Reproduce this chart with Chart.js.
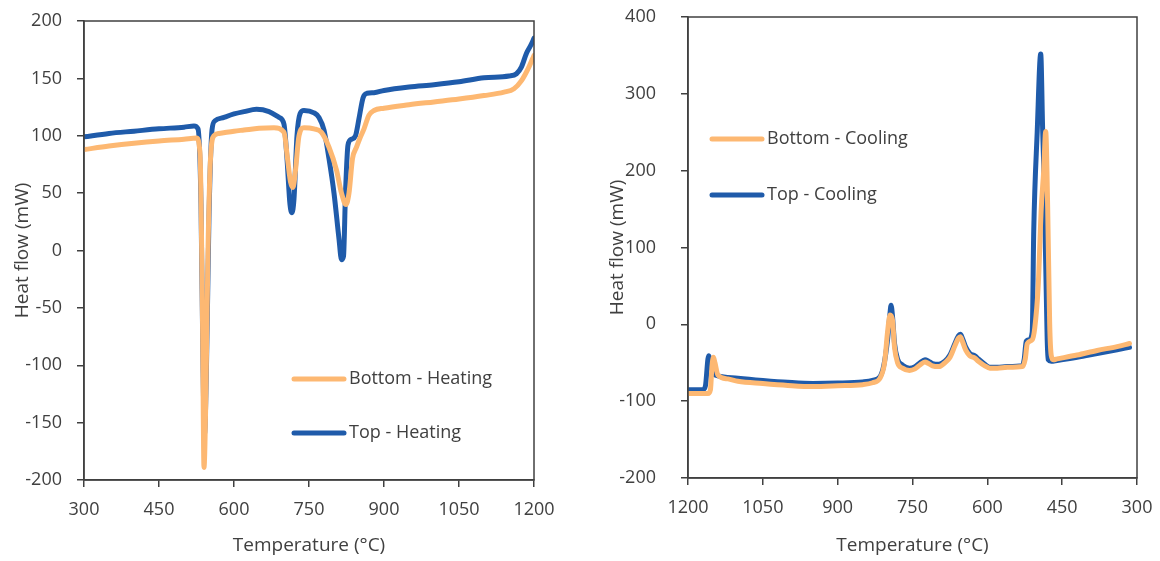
<!DOCTYPE html>
<html>
<head>
<meta charset="utf-8">
<script src="https://cdn.jsdelivr.net/npm/chart.js@4.4.1/dist/chart.umd.min.js"></script>
<style>
  html, body { margin:0; padding:0; background:#fff; }
  .wrap { position:absolute; top:0; width:580px; height:561px; }
  #leftWrap { left:0; }
  #rightWrap { left:580px; }
</style>
</head>
<body>
<div class="wrap" id="leftWrap"><canvas id="heatChart"></canvas></div>
<div class="wrap" id="rightWrap"><canvas id="coolChart"></canvas></div>
<script>
// heating run, bottom sample
const heatBottomT = [300,350,400,450,500,525,532,537,540,544,548,553,560,570,600,620,650,680,700,707,713,718,723,730,740,760,775,790,805,815,824,830,837,845,852,860,870,880,900,950,1000,1050,1100,1140,1160,1175,1190,1200];
const heatBottomQ = [88,91,93.5,95.5,97,98,85,-60,-189,-120,0,80,100,102,104,105,106.5,107,103,80,60,55,70,100,107,106,103,90,70,50,40,50,80,90,98,106,118,122,124,127,129.5,132,135,138,141,148,160,170];
// heating run, top sample
const heatTopT = [300,350,400,450,500,520,528,534,538,541,545,550,556,562,580,600,620,645,670,690,700,706,712,716,720,726,732,740,760,770,780,790,800,810,815,819,823,828,835,843,850,858,866,880,900,950,1000,1050,1100,1150,1165,1175,1185,1195,1200];
const heatTopQ = [99,102,104,106,107.5,108.5,106,40,-100,-160,-100,30,105,113,116,119,121,123,121,116,110,80,40,33,45,100,119,122,120,116,105,80,50,10,-8,-5,50,92,97,100,115,133,137,137.5,139.5,142.5,144.5,147,150.5,152,154,160,172,180,185];
// cooling run, bottom sample
const coolBottomT = [1200,1160,1155,1152,1149,1146,1140,1120,1100,1050,1000,950,900,850,830,815,806,800,795,790,786,780,770,756,745,735,725,718,710,697,685,675,665,658,654,650,643,635,625,618,605,595,580,560,530,524,520,510,505,498,492,487,483,479,475,472,468,460,420,380,340,315];
const coolBottomQ = [-90,-90,-85,-55,-43,-50,-66,-71,-74,-77,-79.5,-81,-80,-78.5,-76,-70,-50,-10,12,5,-30,-50,-57,-60,-58,-53,-49,-51,-54,-55,-50,-43,-28,-18,-16,-22,-34,-41,-44,-48,-54,-57,-57,-56,-55,-45,-25,-20,-5,50,150,200,251,150,0,-40,-46,-45,-40,-34,-29,-25];
// cooling run, top sample
const coolTopT = [1200,1170,1165,1160,1158,1155,1150,1140,1100,1050,1000,950,900,850,830,815,808,800,795,793,790,786,780,770,756,745,735,725,718,710,697,685,675,665,658,654,650,643,635,625,618,605,595,580,560,530,526,522,516,510,507,500,493,489,487,483,480,478,472,460,420,380,340,315];
const coolTopQ = [-85,-85,-80,-45,-41,-50,-63,-67,-70,-73,-75.5,-77,-76.5,-75,-73,-68,-55,-20,15,25,10,-25,-45,-53,-57,-55,-50,-46,-48,-51,-52,-48,-40,-25,-15,-13,-18,-30,-38,-41,-45,-52,-56,-56,-55,-54,-45,-22,-20,-10,121,251,352,250,208,79,-20,-46,-48,-47,-43,-38,-33,-30];

const heatYTicks = [-200,-150,-100,-50,0,50,100,150,200];
const coolYTicks = [-200,-100,0,100,200,300,400];
const tempTicks = [300,450,600,750,900,1050,1200];

const orange = '#FDB872';
const blue = '#1F5BAA';
const ink = '#404040';
const fontFam = "'Open Sans', sans-serif";

function pts(xs, ys){ return xs.map((x,i)=>({x, y: ys[i]})); }

// frame round the plot + legend drawn inside the plot
const boxPlugin = {
  id:'boxPlugin',
  afterDraw(chart, args, opts){
    const {ctx, chartArea:a} = chart;
    ctx.save();
    ctx.strokeStyle = ink; ctx.lineWidth = 1.5;
    ctx.strokeRect(a.left, a.top, a.right-a.left, a.bottom-a.top);
    ctx.font = `18px ${fontFam}`;
    ctx.textBaseline = 'middle';
    chart.data.datasets.forEach((ds,i)=>{
      const y = opts.y + i*opts.gap;
      ctx.strokeStyle = ds.borderColor; ctx.lineWidth = 5; ctx.lineCap = 'round';
      ctx.beginPath(); ctx.moveTo(opts.x, y); ctx.lineTo(opts.x+50, y); ctx.stroke();
      ctx.fillStyle = ink;
      ctx.fillText(ds.label, opts.x+55, y);
    });
    ctx.restore();
  }
};

function makeChart(el, datasets, cfg){
  return new Chart(el, {
    type:'line',
    data:{ datasets },
    options:{
      responsive:true, maintainAspectRatio:false, animation:false,
      layout:{ padding:{ left:0, right:cfg.padRight, top:cfg.padTop, bottom:0 } },
      elements:{ point:{ radius:0 }, line:{ borderWidth:5, cubicInterpolationMode:'monotone', borderCapStyle:'round', borderJoinStyle:'round' } },
      plugins:{ legend:{ display:false }, tooltip:{ enabled:false }, boxPlugin: cfg.legend },
      scales:{
        x:{
          type:'linear', min:300, max:1200, reverse: cfg.reverse,
          afterBuildTicks: s => { s.ticks = tempTicks.map(v=>({value:v})); },
          afterFit: s => { s.height = cfg.xHeight; s.paddingLeft = 0; s.paddingRight = 0; },
          grid:{ drawOnChartArea:false, drawTicks:true, tickLength:7, color:ink, lineWidth:1.5 },
          border:{ color:ink, width:1.5 },
          ticks:{ color:ink, font:{ family:fontFam, size:18 }, padding:12, maxRotation:0, callback: v => String(v) },
          title:{ display:true, text:'Temperature (°C)', color:ink, font:{ family:fontFam, size:19 }, padding:{ top:0, bottom:4 } }
        },
        y:{
          type:'linear', min:cfg.yMin, max:cfg.yMax,
          afterBuildTicks: s => { s.ticks = cfg.yTicks.map(v=>({value:v})); },
          afterFit: s => { s.width = cfg.yWidth; s.paddingTop = 0; s.paddingBottom = 0; },
          grid:{ drawOnChartArea:false, drawTicks:true, tickLength:7, color:ink, lineWidth:1.5 },
          border:{ color:ink, width:1.5 },
          ticks:{ color:ink, font:{ family:fontFam, size:18 }, padding:cfg.yPad, callback: v => String(v) },
          title:{ display:true, text:'Heat flow (mW)', color:ink, font:{ family:fontFam, size:19 }, padding:{ top:cfg.yTitlePad, bottom:0 } }
        }
      }
    },
    plugins:[boxPlugin]
  });
}

makeChart(document.getElementById('heatChart'), [
  { label:'Bottom - Heating', data:pts(heatBottomT, heatBottomQ), borderColor:orange },
  { label:'Top - Heating', data:pts(heatTopT, heatTopQ), borderColor:blue }
], { reverse:false, yMin:-200, yMax:200, yTicks:heatYTicks, padRight:46, padTop:21, xHeight:81, yWidth:84, yPad:15, yTitlePad:11,
     legend:{ x:294, y:379, gap:54 } });

makeChart(document.getElementById('coolChart'), [
  { label:'Bottom - Cooling', data:pts(coolBottomT, coolBottomQ), borderColor:orange },
  { label:'Top - Cooling', data:pts(coolTopT, coolTopQ), borderColor:blue }
], { reverse:true, yMin:-200, yMax:400, yTicks:coolYTicks, padRight:23, padTop:17, xHeight:83, yWidth:108, yPad:25, yTitlePad:26,
     legend:{ x:132, y:139, gap:56 } });
</script>
</body>
</html>
